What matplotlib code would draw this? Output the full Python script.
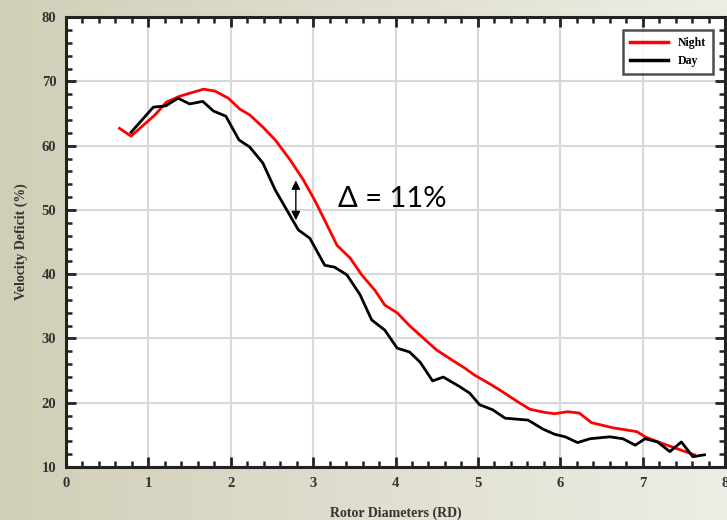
import numpy as np
import matplotlib
matplotlib.use("Agg")
import matplotlib.pyplot as plt
from matplotlib.ticker import MultipleLocator

# velocity deficit downstream of the rotor
night_rd = [0.65, 0.79, 1.08, 1.22, 1.38, 1.67, 1.81, 1.97, 2.11, 2.23, 2.39, 2.54,
            2.72, 2.88, 3.02, 3.14, 3.29, 3.45, 3.59, 3.75, 3.87, 4.02, 4.17, 4.36,
            4.50, 4.68, 4.84, 4.96, 5.15, 5.30, 5.49, 5.63, 5.81, 5.93, 6.09, 6.23,
            6.38, 6.64, 6.93, 7.03, 7.21, 7.45, 7.63]
night_def = [62.7, 61.5, 64.8, 66.8, 67.7, 68.8, 68.5, 67.4, 65.7, 64.8, 62.9, 60.9,
             57.8, 54.7, 51.5, 48.4, 44.5, 42.5, 39.9, 37.5, 35.2, 34.0, 32.0, 29.8,
             28.2, 26.7, 25.4, 24.3, 22.9, 21.7, 20.1, 19.0, 18.5, 18.3, 18.6, 18.4,
             16.9, 16.1, 15.5, 14.7, 13.8, 12.7, 11.9]

day_rd = [0.79, 1.06, 1.21, 1.36, 1.50, 1.66, 1.79, 1.94, 2.10, 2.23, 2.39, 2.54,
          2.68, 2.82, 2.96, 3.14, 3.26, 3.41, 3.57, 3.71, 3.87, 4.02, 4.17, 4.30,
          4.45, 4.58, 4.78, 4.90, 5.02, 5.18, 5.33, 5.61, 5.79, 5.93, 6.06, 6.21,
          6.36, 6.60, 6.76, 6.91, 7.03, 7.18, 7.33, 7.47, 7.61, 7.75]
day_def = [62.1, 66.0, 66.2, 67.4, 66.5, 66.9, 65.4, 64.6, 60.9, 59.8, 57.3, 53.1,
           50.0, 46.9, 45.6, 41.4, 41.1, 39.9, 36.8, 32.9, 31.3, 28.5, 27.9, 26.3,
           23.4, 24.0, 22.5, 21.5, 19.7, 18.9, 17.6, 17.3, 15.9, 15.1, 14.7, 13.8,
           14.4, 14.7, 14.4, 13.4, 14.4, 13.9, 12.4, 13.9, 11.6, 11.9]

plt.rcParams['font.family'] = ['Liberation Serif', 'DejaVu Serif']
plt.rcParams['font.weight'] = 'bold'

fig = plt.figure(figsize=(7.27, 5.2), dpi=100)

# slide-style gradient behind everything
bg = fig.add_axes([0, 0, 1, 1], zorder=-10)
g = np.linspace(0, 1, 256)
c0 = np.array([0.82, 0.81, 0.72])
c1 = np.array([0.93, 0.93, 0.90])
grad = c0[None, :] * (1 - g[:, None]) + c1[None, :] * g[:, None]
bg.imshow(grad[None, :, :], aspect='auto', extent=[0, 1, 0, 1])
bg.axis('off')

ax = fig.add_axes([0.0908, 0.1019, 0.9065, 0.865])
ax.set_facecolor('white')

ax.plot(night_rd, night_def, color='#ff0000', lw=2.0, label='Night', zorder=3)
ax.plot(day_rd, day_def, color='black', lw=2.0, label='Day', zorder=3)

ax.set_xlim(0, 8)
ax.set_ylim(10, 80)
ax.xaxis.set_major_locator(MultipleLocator(1))
ax.xaxis.set_minor_locator(MultipleLocator(0.2))
ax.yaxis.set_major_locator(MultipleLocator(10))
ax.yaxis.set_minor_locator(MultipleLocator(2))
ax.grid(True, which='major', color='#d8d8d8', lw=1.5, zorder=0)

ax.tick_params(which='both', direction='in', top=True, right=True,
               color='#222222', labelsize=10.5, labelcolor='#333333')
ax.tick_params(which='major', length=7, width=2, pad=7)
ax.tick_params(which='minor', length=4, width=1.8)
for s in ax.spines.values():
    s.set_linewidth(2.2)
    s.set_color('#222222')

ax.set_xlabel('Rotor Diameters (RD)', fontsize=10, fontweight='bold', color='#333333', labelpad=12)
ax.set_ylabel('Velocity Deficit (%)', fontsize=10, fontweight='bold', color='#333333', labelpad=10)

leg = ax.legend(loc='upper right', fontsize=8.5, frameon=True, fancybox=False,
                edgecolor='#222222', handlelength=3.2, borderpad=0.6,
                bbox_to_anchor=(0.99, 0.985))
leg.get_frame().set_linewidth(1.8)
for line in leg.get_lines():
    line.set_linewidth(2.5)
for t in leg.get_texts():
    t.set_fontweight('bold')

ax.annotate('', xy=(2.79, 48.4), xytext=(2.79, 54.6),
            arrowprops=dict(arrowstyle='<|-|>', color='black', lw=1.0,
                            mutation_scale=13, shrinkA=0, shrinkB=0), zorder=4)
ax.text(3.96, 51.7, 'Δ = 11%', fontsize=21, fontweight='normal',
        family=['Lato', 'DejaVu Sans'], ha='center', va='center', zorder=4)

fig.savefig('out.png', dpi=100)
